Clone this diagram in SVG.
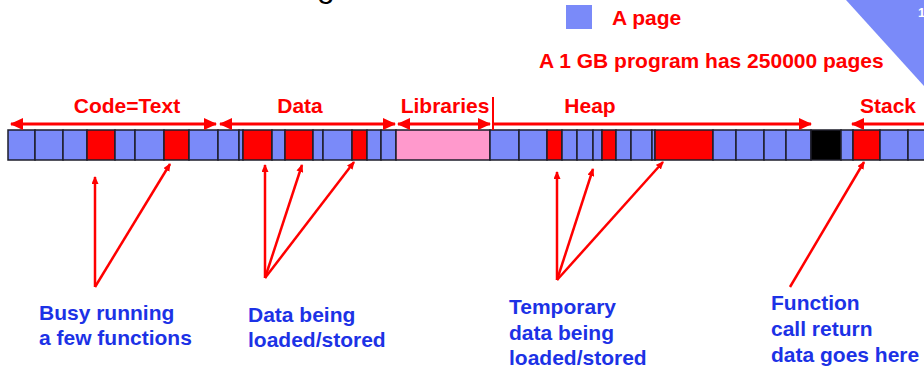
<svg xmlns="http://www.w3.org/2000/svg" width="924" height="374" viewBox="0 0 924 374">
<defs>
<style>
.pg{stroke:#1e1e2a;stroke-width:1.5}
.b{fill:#7a8af9}
.r{fill:#ff0000}
.p{fill:#ff99cc}
.k{fill:#000000}
.lbl{font-family:"Liberation Sans",Arial,Helvetica,sans-serif;font-weight:bold;font-size:21px;fill:#ff0000}
.note{font-family:"Liberation Sans",Arial,Helvetica,sans-serif;font-weight:bold;font-size:21px;fill:#1c32e6}
.span{stroke:#ff0000;stroke-width:3;fill:none}
.ptr{stroke:#ff0000;stroke-width:2.5;fill:none}
</style>
<marker id="big" viewBox="0 0 13 12" refX="12" refY="6" markerWidth="13" markerHeight="12" markerUnits="userSpaceOnUse" orient="auto-start-reverse">
<path d="M0,0 L13,6 L0,12 z" fill="#ff0000"/>
</marker>
<marker id="small" viewBox="0 0 8 7" refX="7" refY="3.5" markerWidth="8" markerHeight="7" markerUnits="userSpaceOnUse" orient="auto">
<path d="M0,0 L8,3.5 L0,7 z" fill="#ff0000"/>
</marker>
</defs>
<rect width="924" height="374" fill="#ffffff"/>

<!-- cut-off title fragment and corner decoration -->
<text x="317" y="-3" font-family="Liberation Sans, Arial, sans-serif" font-size="32" fill="#000">g</text>
<polygon points="846,0 924,0 924,86" fill="#7a8af9"/>
<text x="918" y="17" font-family="Liberation Sans, Arial, sans-serif" font-weight="bold" font-size="13" fill="#ffffff">1</text>

<!-- legend -->
<g id="legend">
<rect x="566" y="5" width="26" height="24" class="b"/>
<text x="612" y="25" class="lbl">A page</text>
<text x="539" y="68" class="lbl">A 1 GB program has 250000 pages</text>
</g>

<!-- memory strip -->
<g id="strip">
<rect class="pg b" x="8" y="130" width="27" height="30"/>
<rect class="pg b" x="35" y="130" width="28" height="30"/>
<rect class="pg b" x="63" y="130" width="24" height="30"/>
<rect class="pg r" x="87" y="130" width="28" height="30"/>
<rect class="pg b" x="115" y="130" width="20" height="30"/>
<rect class="pg b" x="135" y="130" width="29" height="30"/>
<rect class="pg r" x="164" y="130" width="25" height="30"/>
<rect class="pg b" x="189" y="130" width="29" height="30"/>
<rect class="pg b" x="218" y="130" width="21" height="30"/>
<rect class="pg b" x="239" y="130" width="4" height="30"/>
<rect class="pg r" x="243" y="130" width="29" height="30"/>
<rect class="pg b" x="272" y="130" width="13" height="30"/>
<rect class="pg r" x="285" y="130" width="28" height="30"/>
<rect class="pg b" x="313" y="130" width="10" height="30"/>
<rect class="pg b" x="323" y="130" width="29" height="30"/>
<rect class="pg r" x="352" y="130" width="15" height="30"/>
<rect class="pg b" x="367" y="130" width="14" height="30"/>
<rect class="pg b" x="381" y="130" width="15" height="30"/>
<rect class="pg p" x="396" y="130" width="94" height="30"/>
<rect class="pg b" x="490" y="130" width="29" height="30"/>
<rect class="pg b" x="519" y="130" width="28" height="30"/>
<rect class="pg r" x="547" y="130" width="15" height="30"/>
<rect class="pg b" x="562" y="130" width="15" height="30"/>
<rect class="pg b" x="577" y="130" width="16" height="30"/>
<rect class="pg b" x="593" y="130" width="9" height="30"/>
<rect class="pg r" x="602" y="130" width="14" height="30"/>
<rect class="pg b" x="616" y="130" width="15" height="30"/>
<rect class="pg b" x="631" y="130" width="21" height="30"/>
<rect class="pg b" x="652" y="130" width="3" height="30"/>
<rect class="pg r" x="655" y="130" width="58" height="30"/>
<rect class="pg b" x="713" y="130" width="23" height="30"/>
<rect class="pg b" x="736" y="130" width="28" height="30"/>
<rect class="pg b" x="764" y="130" width="22" height="30"/>
<rect class="pg b" x="786" y="130" width="25" height="30"/>
<rect class="pg k" x="811" y="130" width="30" height="30"/>
<rect class="pg b" x="841" y="130" width="12" height="30"/>
<rect class="pg r" x="853" y="130" width="27" height="30"/>
<rect class="pg b" x="880" y="130" width="28" height="30"/>
<rect class="pg b" x="908" y="130" width="30" height="30"/>
</g>

<!-- region labels -->
<g id="region-code"><text x="127" y="113" text-anchor="middle" class="lbl">Code=Text</text></g>
<g id="region-data"><text x="300" y="113" text-anchor="middle" class="lbl">Data</text></g>
<g id="region-libraries"><text x="445" y="113" text-anchor="middle" class="lbl">Libraries</text></g>
<g id="region-heap"><text x="590" y="113" text-anchor="middle" class="lbl">Heap</text></g>
<g id="region-stack"><text x="888" y="113" text-anchor="middle" class="lbl">Stack</text></g>

<!-- notes -->
<g id="note-code">
<text x="39" y="320" class="note">Busy running</text>
<text x="39" y="345" class="note">a few functions</text>
</g>
<g id="note-data">
<text x="248" y="322" class="note">Data being</text>
<text x="248" y="347" class="note">loaded/stored</text>
</g>
<g id="note-heap">
<text x="509" y="314" class="note">Temporary</text>
<text x="509" y="340" class="note">data being</text>
<text x="509" y="365" class="note">loaded/stored</text>
</g>
<g id="note-stack">
<text x="771" y="310" class="note">Function</text>
<text x="771" y="336" class="note">call return</text>
<text x="771" y="362" class="note">data goes here</text>
</g>

<!-- connectors -->
<g id="connectors">
<line class="span" x1="11" y1="124" x2="216" y2="124" marker-start="url(#big)" marker-end="url(#big)"/>
<line class="span" x1="220" y1="124" x2="395" y2="124" marker-start="url(#big)" marker-end="url(#big)"/>
<line class="span" x1="398" y1="124" x2="490" y2="124" marker-start="url(#big)" marker-end="url(#big)"/>
<line x1="493" y1="97" x2="493" y2="130" stroke="#ff0000" stroke-width="2"/>
<line class="span" x1="493" y1="124" x2="811" y2="124" marker-end="url(#big)"/>
<line class="span" x1="930" y1="124" x2="852" y2="124" marker-end="url(#big)"/>

<line class="ptr" x1="95" y1="287" x2="95" y2="177" marker-end="url(#small)"/>
<line class="ptr" x1="95" y1="287" x2="170" y2="164" marker-end="url(#small)"/>

<line class="ptr" x1="265" y1="278" x2="265" y2="165" marker-end="url(#small)"/>
<line class="ptr" x1="265" y1="278" x2="302" y2="165" marker-end="url(#small)"/>
<line class="ptr" x1="265" y1="278" x2="354" y2="162" marker-end="url(#small)"/>

<line class="ptr" x1="557" y1="280" x2="557" y2="172" marker-end="url(#small)"/>
<line class="ptr" x1="557" y1="280" x2="593" y2="169" marker-end="url(#small)"/>
<line class="ptr" x1="557" y1="280" x2="663" y2="162" marker-end="url(#small)"/>

<line class="ptr" x1="790" y1="287" x2="864" y2="162" marker-end="url(#small)"/>
</g>
</svg>
